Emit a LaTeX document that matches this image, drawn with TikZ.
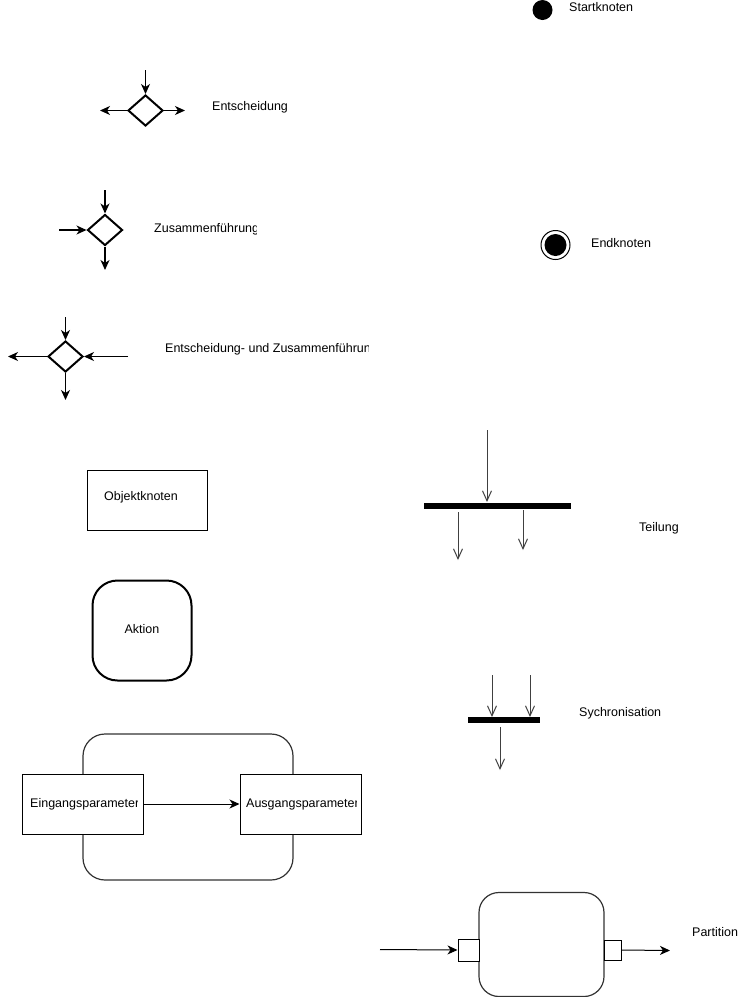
\documentclass[tikz,border=0pt]{standalone}
\usepackage{fontspec}
\setmainfont{Liberation Sans}
\usetikzlibrary{shapes.geometric,arrows.meta}
\tikzset{
  lbl/.style={anchor=west,inner sep=0pt,font=\fontsize{12.5}{14}\selectfont},
  dia/.style={draw,diamond,line width=2pt,minimum width=35pt,minimum height=31pt,inner sep=0pt},
  arr/.style={line width=1.2pt,-{Stealth[length=10pt,width=9pt,inset=3pt]}},
  thinarr/.style={draw=black!75,line width=1pt,-{Straight Barb[length=10pt,width=9pt]}},
  bar/.style={fill=black,draw=none,inner sep=0pt,minimum height=6pt},
  box/.style={draw,line width=1pt,inner sep=0pt},
}
\begin{document}
\begin{tikzpicture}[x=1pt,y=-1pt]
\useasboundingbox (0,0) rectangle (751,997);
% Startknoten
\node[circle,fill=black,minimum size=20pt,inner sep=0pt] (start) at (542.5,10) {};
\node[lbl] (startl) at (569,7.5) {Startknoten};
% Endknoten
\node[circle,draw,line width=1pt,minimum size=29pt,inner sep=0pt] (endo) at (555.5,245) {};
\node[circle,fill=black,minimum size=22pt,inner sep=0pt] (endi) at (555.5,245) {};
\node[lbl] (endl) at (591,243.5) {Endknoten};
% Entscheidung
\node[dia] (d1) at (145.5,110.5) {};
\coordinate (d1t) at (145.5,70);
\coordinate (d1l) at (100,110.5);
\coordinate (d1r) at (185,110.5);
\draw[arr] (d1t) -- (d1.north);
\draw[arr] (d1.west) -- (d1l);
\draw[arr] (d1.east) -- (d1r);
\node[lbl] (d1lab) at (212,107.5) {Entscheidung};
% Zusammenfuehrung
\node[dia] (d2) at (105,230) {};
\coordinate (d2t) at (105,190);
\coordinate (d2l) at (59,230);
\coordinate (d2b) at (105,270);
\draw[arr] (d2t) -- (d2.north);
\draw[arr] (d2l) -- (d2.west);
\draw[arr] (d2.south) -- (d2b);
\begin{scope}
\clip (150,215) rectangle (256,245);
\node[lbl] (d2lab) at (154,229.5) {Zusammenführung};
\end{scope}
% Entscheidung- und Zusammenfuehrung
\node[dia] (d3) at (65.5,356.5) {};
\coordinate (d3t) at (65.5,317);
\coordinate (d3l) at (8,356.5);
\coordinate (d3r) at (128,356.5);
\coordinate (d3b) at (65.5,400);
\draw[arr] (d3t) -- (d3.north);
\draw[arr] (d3.west) -- (d3l);
\draw[arr] (d3r) -- (d3.east);
\draw[arr] (d3.south) -- (d3b);
\begin{scope}
\clip (160,335) rectangle (368.5,365);
\node[lbl] (d3lab) at (165,349.5) {Entscheidung- und Zusammenführung};
\end{scope}
% Objektknoten
\node[box,minimum width=120pt,minimum height=60pt] (obj) at (147,500) {};
\node[lbl] (objl) at (104,497.5) {Objektknoten};
% Aktion
\node[draw,line width=2pt,rounded corners=25pt,minimum width=99pt,minimum height=100pt,inner sep=0pt] (akt) at (142,630.5) {};
\node[lbl,anchor=center] (aktl) at (142,629.5) {Aktion};
% Aktion mit Parametern
\node[draw=black!80,line width=1.2pt,rounded corners=22pt,minimum width=210pt,minimum height=146pt,inner sep=0pt] (akt2) at (188,807) {};
\node[box,fill=white,minimum width=121pt,minimum height=60pt] (ein) at (82.5,804) {};
\node[box,fill=white,minimum width=121pt,minimum height=60pt] (aus) at (300.5,804) {};
\begin{scope}
\clip (25,780) rectangle (137.5,830);
\node[lbl] (einl) at (30,804) {Eingangsparameter};
\end{scope}
\begin{scope}
\clip (243,780) rectangle (356,830);
\node[lbl] (ausl) at (246,804) {Ausgangsparameter};
\end{scope}
\draw[arr,line width=1pt] (ein.east) -- (aus.west);
% Teilung
\node[bar,minimum width=147pt] (tbar) at (497.5,505.5) {};
\coordinate (tin) at (487,430);
\coordinate (tin2) at (487,502);
\coordinate (to1a) at (458,512);
\coordinate (to1b) at (458,560);
\coordinate (to2a) at (523,510);
\coordinate (to2b) at (523,550);
\draw[thinarr] (tin) -- (tin2);
\draw[thinarr] (to1a) -- (to1b);
\draw[thinarr] (to2a) -- (to2b);
\node[lbl] (tlab) at (639,528) {Teilung};
% Sychronisation
\node[bar,minimum width=72pt] (sbar) at (504,720) {};
\coordinate (si1a) at (492,675);
\coordinate (si1b) at (492,717);
\coordinate (si2a) at (530,675);
\coordinate (si2b) at (530,717);
\coordinate (soa) at (500,727);
\coordinate (sob) at (500,770);
\draw[thinarr] (si1a) -- (si1b);
\draw[thinarr] (si2a) -- (si2b);
\draw[thinarr] (soa) -- (sob);
\node[lbl] (slab) at (579,713.5) {Sychronisation};
% Partition
\node[draw=black!80,line width=1.2pt,rounded corners=20pt,minimum width=125pt,minimum height=104pt,inner sep=0pt] (part) at (541.5,944.5) {};
\node[box,fill=white,minimum width=21pt,minimum height=22pt] (pin) at (468.5,950) {};
\node[box,fill=white,minimum width=17pt,minimum height=20pt] (pout) at (612.5,950) {};
\coordinate (pa) at (380,949.5);
\coordinate (pb) at (670,950.5);
\draw[arr,line width=1pt] (pa) -- (pin.west);
\draw[arr,line width=1pt] (pout.east) -- (pb);
\node[lbl] (plab) at (692,932) {Partition};
\end{tikzpicture}
\end{document}
